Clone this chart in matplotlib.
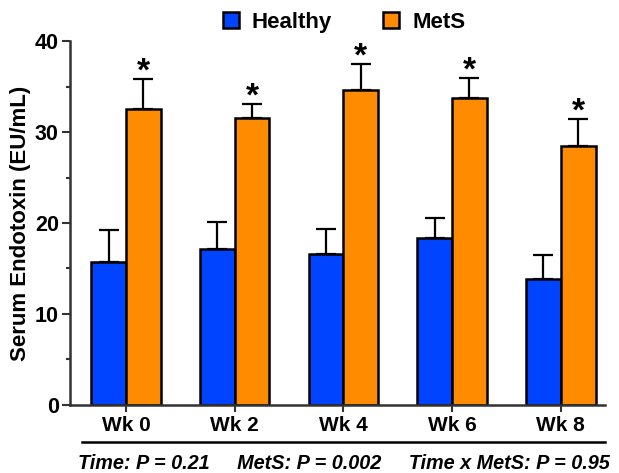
import numpy as np
import matplotlib
matplotlib.use("Agg")
import matplotlib.pyplot as plt
from matplotlib.patches import Patch
from matplotlib.ticker import MultipleLocator

plt.rcParams['font.family'] = ['Liberation Sans', 'DejaVu Sans']
plt.rcParams['font.weight'] = 'bold'

# values
weeks = ["Wk 0", "Wk 2", "Wk 4", "Wk 6", "Wk 8"]
healthy = [15.7, 17.1, 16.6, 18.3, 13.8]
healthy_err = [3.5, 3.0, 2.7, 2.3, 2.7]
mets = [32.5, 31.6, 34.6, 33.8, 28.5]
mets_err = [3.3, 1.5, 2.9, 2.1, 2.9]
stats_text = "Time: P = 0.21     MetS: P = 0.002     Time x MetS: P = 0.95"

blue = "#0044ff"
orange = "#ff8c00"

fig = plt.figure(figsize=(6.19, 4.73), dpi=100)
ax = fig.add_axes([0.113, 0.144, 0.864, 0.769])

x = np.arange(len(weeks))
w = 0.32
ax.bar(x - w / 2, healthy, w, color=blue, edgecolor="black", linewidth=1.8, zorder=2)
ax.bar(x + w / 2, mets, w, color=orange, edgecolor="black", linewidth=1.8, zorder=2)
ax.errorbar(x - w / 2, healthy, yerr=[np.zeros(5), healthy_err], fmt="none",
            ecolor="black", elinewidth=1.6, capsize=7, capthick=1.6, zorder=1)
ax.errorbar(x + w / 2, mets, yerr=[np.zeros(5), mets_err], fmt="none",
            ecolor="black", elinewidth=1.6, capsize=7, capthick=1.6, zorder=1)

for xi, m, e in zip(x, mets, mets_err):
    ax.text(xi + w / 2, m + e - 0.9, "*", ha="center", va="bottom",
            fontsize=24, fontweight="bold")

ax.set_xlim(-0.515, 4.405)
ax.set_ylim(0, 40)
ax.yaxis.set_major_locator(MultipleLocator(10))
ax.yaxis.set_minor_locator(MultipleLocator(5))
ax.set_xticks(x)
ax.set_xticklabels(weeks, fontsize=15, fontweight="bold")
ax.tick_params(axis="y", labelsize=15.5, width=1.5, length=6, color="#333333", pad=2)
ax.tick_params(axis="y", which="minor", width=1.5, length=3, color="#333333")
ax.tick_params(axis="x", width=1.5, length=5, color="#333333", pad=3)
for s in ["top", "right"]:
    ax.spines[s].set_visible(False)
for s in ["left", "bottom"]:
    ax.spines[s].set_linewidth(1.8)
    ax.spines[s].set_color("#333333")
ax.set_ylabel("Serum Endotoxin (EU/mL)", fontsize=16, fontweight="bold", labelpad=3)

handles = [Patch(facecolor=blue, edgecolor="black", linewidth=1.8, label="Healthy"),
           Patch(facecolor=orange, edgecolor="black", linewidth=1.8, label="MetS")]
fig.legend(handles=handles, loc="center", bbox_to_anchor=(0.556, 0.953), ncol=2,
           frameon=False, fontsize=16, handlelength=0.7, handleheight=0.7,
           columnspacing=2.3, handletextpad=0.6)

fig.add_artist(plt.Line2D([0.133, 0.977], [0.066, 0.066], color="black", linewidth=1.8))
fig.text(0.556, 0.021, stats_text, ha="center", va="center", fontsize=14.3,
         fontweight="bold", fontstyle="italic")

fig.savefig("out.png", dpi=100)
